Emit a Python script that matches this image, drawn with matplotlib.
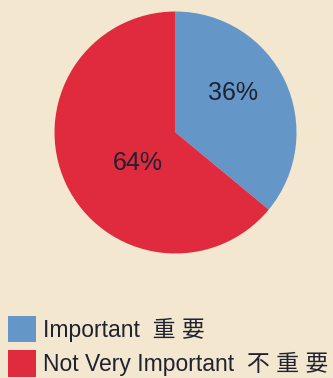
"""Pie chart: importance share (Important vs Not Very Important)."""

import matplotlib
matplotlib.use("Agg")
import matplotlib.pyplot as plt
from matplotlib.patches import Patch
import numpy as np

plt.rcParams["font.family"] = ["Liberation Sans", "Noto Sans CJK TC", "DejaVu Sans"]

labels = ["Important  重 要", "Not Very Important  不 重 要"]
shares = [36, 64]
colors = ["#6497C8", "#E02A3D"]
# label anchor tweaks (fraction of radius, angle in degrees) to sit like the original
label_spots = [(0.58, 34.5), (0.40, 219.0)]

fig = plt.figure(figsize=(3.33, 3.78), dpi=100, facecolor="#F4E7D0")
ax = fig.add_axes([0.1637, 0.3294, 0.7267, 0.6402])
ax.set_facecolor("none")

wedges, _, pct = ax.pie(shares, colors=colors, startangle=90, counterclock=False,
                        radius=1, autopct="%d%%", pctdistance=0.6,
                        textprops={"fontsize": 18, "color": "#1F2230"},
                        wedgeprops={"linewidth": 0})
for t, (r, a) in zip(pct, label_spots):
    t.set_position((r * np.cos(np.radians(a)), r * np.sin(np.radians(a))))
ax.set_xlim(-1, 1)
ax.set_ylim(-1, 1)
ax.set_aspect("equal")
ax.axis("off")

handles = [Patch(facecolor=c, edgecolor="none") for c in colors]
fig.legend(handles, labels, loc="upper left", bbox_to_anchor=(8 / 333, 1 - 316 / 378),
           frameon=False, fontsize=16.5, handlelength=1.22, handleheight=1.4,
           handletextpad=0.3, labelspacing=0.35, borderpad=0, borderaxespad=0,
           labelcolor="#1F2230")

fig.savefig("out.png", dpi=100, facecolor=fig.get_facecolor())
